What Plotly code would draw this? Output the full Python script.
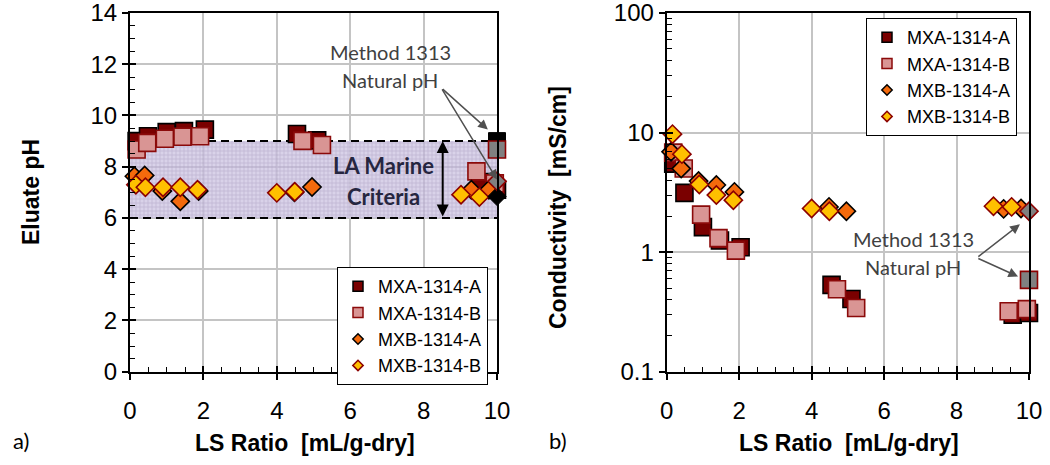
import numpy as np
import plotly.graph_objects as go

# Liquid-to-solid ratios (cumulative, mL/g-dry) for each leaching series
ls_mxa_a = [0.18, 0.49, 1.0, 1.47, 2.04, 4.55, 5.1, 9.55, 10.0]
ls_mxa_b = [0.18, 0.47, 0.95, 1.43, 1.91, 4.7, 5.23, 9.44, 9.94]
ls_mxb_a = [0.12, 0.4, 0.88, 1.37, 1.87, 4.48, 4.96, 9.3, 9.78]
ls_mxb_b = [0.16, 0.42, 0.9, 1.37, 1.84, 4.0, 4.49, 9.02, 9.52]

# Eluate pH, Method 1314
ph_mxa_a = [9.0, 9.19, 9.35, 9.39, 9.45, 9.28, 9.03, 7.4, 7.1]
ph_mxa_b = [8.67, 8.93, 9.09, 9.17, 9.19, 9.01, 8.85, 7.82, 7.35]
ph_mxb_a = [7.63, 7.66, 7.05, 6.65, 7.05, 7.0, 7.21, 7.1, 7.1]
ph_mxb_b = [7.3, 7.2, 7.2, 7.2, 7.1, 6.98, 7.02, 6.91, 6.82]

# Conductivity (mS/cm), Method 1314
ec_mxa_a = [5.5, 3.13, 1.62, 1.25, 1.1, 0.532, 0.406, 0.30, 0.31]
ec_mxa_b = [6.8, 5.0, 2.06, 1.31, 1.03, 0.49, 0.341, 0.32, 0.334]
ec_mxb_a = [6.9, 5.0, 3.93, 3.64, 3.19, 2.39, 2.2, 2.3, 2.32]
ec_mxb_b = [9.7, 6.6, 3.68, 3.0, 2.72, 2.32, 2.2, 2.42, 2.39]

# Method 1313 natural pH results at LS = 10
ls_1313 = [10.0]
ph_1313_mxa_a = [9.0]
ph_1313_mxa_b = [8.67]
ph_1313_mxb_a = [6.84]
ph_1313_mxb_b = [7.43]
ec_1313_mxa = [0.586]
ec_1313_mxb = [2.2]

# LA marine criteria pH window
criteria_ph = [6.0, 9.0]
criteria_ls = [0.0, 10.0]

series_names = ["MXA-1314-A", "MXA-1314-B", "MXB-1314-A", "MXB-1314-B"]

SANS = "Liberation Sans, Arial, sans-serif"
TICK_FONT = dict(family=SANS, size=24, color="black")
TITLE_FONT = dict(family=SANS, size=23, color="black")
NOTE_FONT = "Lato, Carlito, Calibri, sans-serif"

styles = {
    "MXA-1314-A": dict(symbol="square", color="#7a0000", line=dict(color="black", width=1.6), size=17),
    "MXA-1314-B": dict(symbol="square", color="#d99594", line=dict(color="#8b0a0a", width=1.6), size=17),
    "MXB-1314-A": dict(symbol="diamond", color="#f46a0c", line=dict(color="black", width=1.6), size=14),
    "MXB-1314-B": dict(symbol="diamond", color="#ffc000", line=dict(color="#8b0000", width=1.6), size=14),
}

fig = go.Figure()

# criteria band (hatched) with dashed limits
fig.add_trace(go.Scatter(
    x=[criteria_ls[0], criteria_ls[1], criteria_ls[1], criteria_ls[0]],
    y=[criteria_ph[0], criteria_ph[0], criteria_ph[1], criteria_ph[1]],
    mode="none", fill="toself", fillcolor="rgba(200,190,222,0.8)",
    fillpattern=dict(shape="+", size=4, solidity=0.3, fgcolor="rgba(110,95,140,0.6)",
                     bgcolor="rgba(208,199,228,0.8)"),
    showlegend=False, hoverinfo="skip", xaxis="x", yaxis="y"))
for lim in criteria_ph:
    fig.add_trace(go.Scatter(
        x=criteria_ls, y=[lim, lim], mode="lines",
        line=dict(color="black", width=2, dash="8px,5px"),
        showlegend=False, hoverinfo="skip", xaxis="x", yaxis="y"))

ls_all = [ls_mxa_a, ls_mxa_b, ls_mxb_a, ls_mxb_b]
ph_all = [ph_mxa_a, ph_mxa_b, ph_mxb_a, ph_mxb_b]
ec_all = [ec_mxa_a, ec_mxa_b, ec_mxb_a, ec_mxb_b]

for name, ls, ph in zip(series_names, ls_all, ph_all):
    st = styles[name]
    fig.add_trace(go.Scatter(
        x=ls, y=ph, mode="markers", name=name, showlegend=False,
        marker=dict(symbol=st["symbol"], size=st["size"], color=st["color"], line=st["line"]),
        cliponaxis=False, xaxis="x", yaxis="y"))
for name, ls, ec in zip(series_names, ls_all, ec_all):
    st = styles[name]
    fig.add_trace(go.Scatter(
        x=ls, y=ec, mode="markers", name=name, showlegend=False,
        marker=dict(symbol=st["symbol"], size=st["size"], color=st["color"], line=st["line"]),
        cliponaxis=False, xaxis="x2", yaxis="y2"))

# Method 1313 points
gray_sq = dict(symbol="square", size=17, color="#808080", line=dict(color="#8b0000", width=1.6))
gray_di = dict(symbol="diamond", size=14, color="#808080", line=dict(color="#8b0000", width=1.6))
fig.add_trace(go.Scatter(x=ls_1313, y=ph_1313_mxa_a, mode="markers", showlegend=False,
                         marker=dict(symbol="square", size=17, color="black", line=dict(color="black", width=1)),
                         cliponaxis=False, xaxis="x", yaxis="y"))
fig.add_trace(go.Scatter(x=ls_1313, y=ph_1313_mxb_a, mode="markers", showlegend=False,
                         marker=dict(symbol="diamond", size=14, color="black", line=dict(color="black", width=1)),
                         cliponaxis=False, xaxis="x", yaxis="y"))
fig.add_trace(go.Scatter(x=ls_1313, y=ph_1313_mxa_b, mode="markers", showlegend=False,
                         marker=gray_sq, cliponaxis=False, xaxis="x", yaxis="y"))
fig.add_trace(go.Scatter(x=ls_1313, y=ph_1313_mxb_b, mode="markers", showlegend=False,
                         marker=gray_di, cliponaxis=False, xaxis="x", yaxis="y"))
fig.add_trace(go.Scatter(x=ls_1313, y=ec_1313_mxa, mode="markers", showlegend=False,
                         marker=gray_sq, cliponaxis=False, xaxis="x2", yaxis="y2"))
fig.add_trace(go.Scatter(x=ls_1313, y=ec_1313_mxb, mode="markers", showlegend=False,
                         marker=gray_di, cliponaxis=False, xaxis="x2", yaxis="y2"))

# legend entries with compact symbols
for leg, (xa, ya) in (("legend", ("x", "y")), ("legend2", ("x2", "y2"))):
    for name in series_names:
        st = styles[name]
        fig.add_trace(go.Scatter(
            x=[None], y=[None], mode="markers", name=name, legend=leg,
            marker=dict(symbol=st["symbol"], size=10 if st["symbol"] == "square" else 8,
                        color=st["color"], line=dict(color=st["line"]["color"], width=1.5)),
            xaxis=xa, yaxis=ya))

# empty traces that hold the overlay axes used for the inner tick marks
fig.add_trace(go.Scatter(x=[None], y=[None], showlegend=False, hoverinfo="skip", xaxis="x3", yaxis="y3"))
fig.add_trace(go.Scatter(x=[None], y=[None], showlegend=False, hoverinfo="skip", xaxis="x4", yaxis="y4"))

dom_y = [93.3 / 465, 452 / 465]
dom_x1 = [130 / 1050, 497 / 1050]
dom_x2 = [666.7 / 1050, 1029 / 1050]

common_axis = dict(
    showline=True, linecolor="black", linewidth=2, mirror=True,
    showgrid=True, gridcolor="#c4c4c4", gridwidth=2,
    ticks="outside", ticklen=6, tickwidth=2, tickcolor="black",
    tickfont=TICK_FONT, zeroline=False, ticklabeloverflow="allow", automargin=False,
)
minor_lin = dict(dtick=0.5, ticks="inside", ticklen=5, tickwidth=1, tickcolor="black", showgrid=False)
minor_log = dict(dtick="D1", ticks="inside", ticklen=5, tickwidth=1, tickcolor="black", showgrid=False)
inner = dict(ticks="inside", ticklen=6, tickwidth=2, tickcolor="black", automargin=False,
             showticklabels=False, showgrid=False, showline=False, zeroline=False)

fig.update_layout(
    width=1050, height=465, margin=dict(l=0, r=0, t=0, b=0, autoexpand=False),
    paper_bgcolor="white", plot_bgcolor="white",
    xaxis=dict(domain=dom_x1, anchor="y", range=[0, 10], dtick=2, tick0=0,
               ticklabelstandoff=10, **common_axis),
    yaxis=dict(domain=dom_y, anchor="x", range=[0, 14], dtick=2, tick0=0, **common_axis),
    xaxis2=dict(domain=dom_x2, anchor="y2", range=[0, 10], dtick=2, tick0=0,
                ticklabelstandoff=10, **common_axis),
    yaxis2=dict(domain=dom_y, anchor="x2", type="log", range=[-1, 2], dtick=1, **common_axis),
    xaxis3=dict(domain=dom_x1, anchor="y3", overlaying="x", range=[0, 10], dtick=2, tick0=0,
                minor=minor_lin, **inner),
    yaxis3=dict(domain=dom_y, anchor="x3", overlaying="y", range=[0, 14], dtick=2, tick0=0,
                minor=minor_lin, **inner),
    xaxis4=dict(domain=dom_x2, anchor="y4", overlaying="x2", range=[0, 10], dtick=2, tick0=0,
                minor=minor_lin, **inner),
    yaxis4=dict(domain=dom_y, anchor="x4", overlaying="y2", type="log", range=[-1, 2], dtick=1,
                minor=minor_log, **inner),
    legend=dict(x=488 / 1050, xanchor="right", y=(465 - 267) / 465, yanchor="top",
                bgcolor="white", bordercolor="black", borderwidth=1,
                font=dict(family=SANS, size=18, color="black"),
                tracegroupgap=0, itemwidth=30),
    legend2=dict(x=1017 / 1050, xanchor="right", y=(465 - 18) / 465, yanchor="top",
                 bgcolor="white", bordercolor="black", borderwidth=1,
                 font=dict(family=SANS, size=18, color="black"),
                 tracegroupgap=0, itemwidth=30),
    showlegend=True,
)


def label(px, py, text, font, angle=0):
    """Text placed by pixel position on the 1050x465 page, centred on that point."""
    return dict(x=px / 1050, y=(465 - py) / 465, xref="paper", yref="paper",
                xanchor="center", yanchor="middle", text=text, textangle=angle,
                showarrow=False, font=font)


note_font = dict(family=NOTE_FONT, size=20, color="#404040")
crit_font = dict(family=NOTE_FONT, size=22, color="#262640")
arrow_style = dict(text="", showarrow=True, arrowhead=2, arrowsize=1.3, arrowwidth=1.5,
                   arrowcolor="#505050")

annos = [
    # axis titles
    label(305, 443, "<b>LS Ratio  [mL/g-dry]</b>", TITLE_FONT),
    label(849, 443, "<b>LS Ratio  [mL/g-dry]</b>", TITLE_FONT),
    label(31, 192, "<b>Eluate pH</b>", TITLE_FONT, -90),
    label(558, 208, "<b>Conductivity  [mS/cm]</b>", TITLE_FONT, -90),
    # pH panel notes
    label(390, 52, "Method 1313", note_font),
    label(390, 80, "Natural pH", note_font),
    dict(x=9.75, y=9.45, ax=8.48, ay=11.08, xref="x", yref="y", axref="x", ayref="y", **arrow_style),
    dict(x=10.0, y=7.5, ax=8.48, ay=11.08, xref="x", yref="y", axref="x", ayref="y", **arrow_style),
    label(383, 166, "<b>LA Marine</b>", crit_font),
    label(383, 196, "<b>Criteria</b>", crit_font),
    dict(x=8.52, y=criteria_ph[1], ax=8.52, ay=criteria_ph[0], xref="x", yref="y", axref="x", ayref="y",
         text="", showarrow=True, arrowhead=2, arrowside="end+start", arrowsize=1.2,
         arrowwidth=2, arrowcolor="black"),
    # conductivity panel notes
    label(913, 239, "Method 1313", note_font),
    label(913, 267, "Natural pH", note_font),
    dict(x=9.75, y=np.log10(1.71), ax=8.56, ay=np.log10(0.897), xref="x2", yref="y2",
         axref="x2", ayref="y2", **arrow_style),
    dict(x=9.7, y=np.log10(0.625), ax=8.56, ay=np.log10(0.897), xref="x2", yref="y2",
         axref="x2", ayref="y2", **arrow_style),
    # panel labels
    label(21, 440, "a)", dict(family=NOTE_FONT, size=22, color="black")),
    label(558, 440, "b)", dict(family=NOTE_FONT, size=22, color="black")),
]
fig.update_layout(annotations=annos)

fig.write_html("out.html")
